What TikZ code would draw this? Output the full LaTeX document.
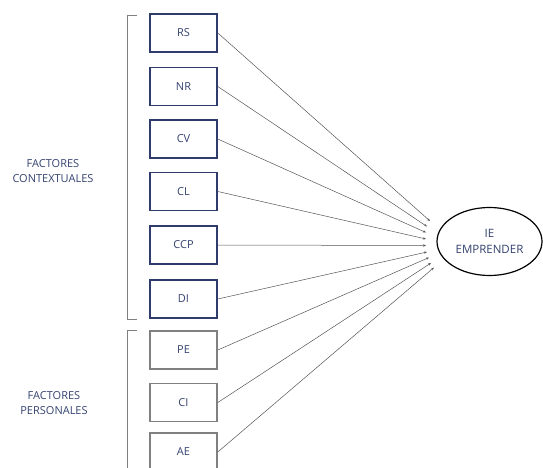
\documentclass[tikz,border=0pt]{standalone}
\usepackage{fontspec}
\setmainfont{Open Sans}
\usetikzlibrary{arrows.meta,shapes.geometric}
\definecolor{navy}{HTML}{2E3B6B}
\definecolor{txt}{HTML}{34426F}
\definecolor{boxgray}{HTML}{808080}
\definecolor{linegray}{HTML}{555555}
\tikzset{
  ctx/.style={draw=navy, line width=1.6pt, minimum width=67pt, minimum height=38pt, inner sep=0pt, text=txt, font=\fontsize{11}{13}\selectfont},
  per/.style={ctx, draw=boxgray},
  conn/.style={draw=linegray, line width=0.5pt, -{Stealth[length=3pt,width=2.4pt]}},
  brack/.style={draw=boxgray, line width=0.9pt},
  lbl/.style={text=txt, align=center, font=\fontsize{11}{14.5}\selectfont},
}
\begin{document}
\begin{tikzpicture}[x=1pt,y=-1pt]
\useasboundingbox (0,0) rectangle (543,468);
\node[ctx] (rs) at (183.5,33) {RS};
\node[ctx] (nr) at (183.5,86.5) {NR};
\node[ctx] (cv) at (183.5,139) {CV};
\node[ctx] (cl) at (183.5,191.5) {CL};
\node[ctx] (ccp) at (183.5,245) {CCP};
\node[ctx] (di) at (183.5,299) {DI};
\node[per] (pe) at (183.5,350) {PE};
\node[per] (ci) at (183.5,402.5) {CI};
\node[per] (ae) at (183.5,452) {AE};
\node[draw=black, line width=1.2pt, ellipse, minimum width=105pt, minimum height=68pt, inner sep=0pt, text=txt, align=center, font=\fontsize{11.5}{16}\selectfont] (ie) at (489.5,241.5) {IE\\EMPRENDER};
\coordinate (t1) at (430,221);
\coordinate (t2) at (427,226.5);
\coordinate (t3) at (426,232.5);
\coordinate (t4) at (426,239);
\coordinate (t5) at (426,245.5);
\coordinate (t6) at (427,252);
\coordinate (t7) at (429,257.5);
\coordinate (t8) at (431,263);
\coordinate (t9) at (434,267.5);
\draw[conn] (rs.east) -- (t1);
\draw[conn] (nr.east) -- (t2);
\draw[conn] (cv.east) -- (t3);
\draw[conn] (cl.east) -- (t4);
\draw[conn] (ccp.east) -- (t5);
\draw[conn] (di.east) -- (t6);
\draw[conn] (pe.east) -- (t7);
\draw[conn] (ci.east) -- (t8);
\draw[conn] (ae.east) -- (t9);
\coordinate (b1a) at (137,15);
\coordinate (b1b) at (127,15);
\coordinate (b1c) at (127,319);
\coordinate (b1d) at (137,319);
\draw[brack] (b1a) -- (b1b) -- (b1c) -- (b1d);
\coordinate (b2a) at (137,330);
\coordinate (b2b) at (127,330);
\coordinate (b2c) at (127,470);
\draw[brack] (b2a) -- (b2b) -- (b2c);
\node[lbl] (lctx) at (53,171) {FACTORES\\CONTEXTUALES};
\node[lbl] (lper) at (54,403) {FACTORES\\PERSONALES};
\end{tikzpicture}
\end{document}
